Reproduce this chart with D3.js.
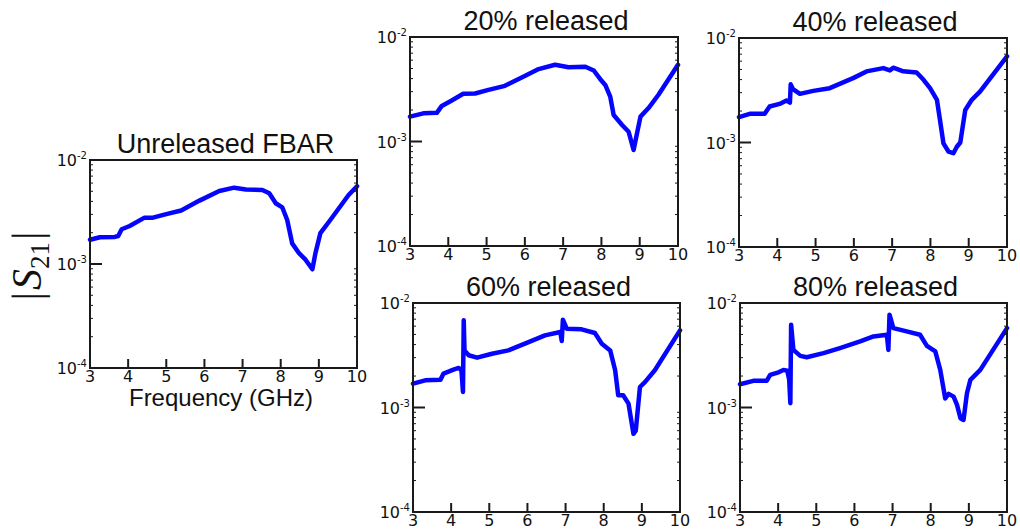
<!DOCTYPE html>
<html>
<head>
<meta charset="utf-8">
<script src="https://cdn.jsdelivr.net/npm/d3@7"></script>
<style>
  html, body { margin: 0; padding: 0; background: #fff; }
  svg { display: block; }
</style>
</head>
<body>
<svg id="chart" width="1020" height="532"></svg>
<script>
// ---------------- data ----------------
const panelTitles = ["Unreleased FBAR", "20% released", "40% released", "60% released", "80% released"];
const freqTicks = [3, 4, 5, 6, 7, 8, 9, 10];
const yTickExps = [-4, -3, -2];
const xLabel = "Frequency (GHz)";

const unreleasedFreq = [3.0, 3.26, 3.65, 3.74, 3.83, 4.04, 4.43, 4.65, 5.0, 5.39, 5.87, 6.39, 6.78, 7.09, 7.52, 7.7, 7.87, 8.04, 8.17, 8.3, 8.48, 8.65, 8.83, 8.91, 9.04, 9.3, 9.78, 10.0];
const unreleasedS21 = [1.71e-3, 1.81e-3, 1.82e-3, 1.86e-3, 2.16e-3, 2.32e-3, 2.79e-3, 2.79e-3, 3.02e-3, 3.27e-3, 4.07e-3, 5.04e-3, 5.42e-3, 5.2e-3, 5.15e-3, 4.79e-3, 3.84e-3, 3.51e-3, 2.65e-3, 1.58e-3, 1.27e-3, 1.1e-3, 8.9e-4, 1.27e-3, 1.98e-3, 2.65e-3, 4.61e-3, 5.6e-3];

const rel20Freq = [3.0, 3.35, 3.7, 3.83, 4.09, 4.39, 4.7, 5.05, 5.48, 6.01, 6.36, 6.79, 7.14, 7.58, 7.8, 7.97, 8.1, 8.23, 8.32, 8.54, 8.71, 8.84, 8.93, 9.02, 9.23, 9.49, 10.0];
const rel20S21 = [1.73e-3, 1.86e-3, 1.88e-3, 2.19e-3, 2.47e-3, 2.86e-3, 2.88e-3, 3.12e-3, 3.41e-3, 4.26e-3, 4.93e-3, 5.42e-3, 5.13e-3, 5.2e-3, 4.78e-3, 3.95e-3, 3.48e-3, 2.69e-3, 1.79e-3, 1.44e-3, 1.24e-3, 8.3e-4, 1.2e-3, 1.73e-3, 2.09e-3, 2.8e-3, 5.42e-3];

const rel40Freq = [3.0, 3.28, 3.67, 3.8, 4.06, 4.24, 4.33, 4.35, 4.41, 4.59, 4.94, 5.37, 5.98, 6.33, 6.77, 6.94, 7.03, 7.29, 7.64, 7.82, 7.99, 8.17, 8.25, 8.34, 8.47, 8.6, 8.69, 8.78, 8.91, 9.08, 9.3, 10.0];
const rel40S21 = [1.75e-3, 1.88e-3, 1.88e-3, 2.21e-3, 2.34e-3, 2.52e-3, 2.41e-3, 3.6e-3, 3.24e-3, 2.92e-3, 3.12e-3, 3.31e-3, 4.13e-3, 4.79e-3, 5.15e-3, 4.9e-3, 5.2e-3, 4.8e-3, 4.68e-3, 3.98e-3, 3.31e-3, 2.56e-3, 1.64e-3, 9.8e-4, 8.2e-4, 7.9e-4, 9.1e-4, 1.0e-3, 2.05e-3, 2.56e-3, 3.08e-3, 6.67e-3];

const rel60Freq = [3.0, 3.32, 3.72, 3.8, 4.06, 4.2, 4.27, 4.31, 4.33, 4.35, 4.46, 4.68, 5.07, 5.5, 6.03, 6.46, 6.86, 6.9, 6.93, 7.03, 7.42, 7.77, 7.95, 8.17, 8.3, 8.38, 8.51, 8.65, 8.78, 8.84, 8.95, 9.08, 9.34, 10.0];
const rel60S21 = [1.69e-3, 1.82e-3, 1.84e-3, 2.11e-3, 2.3e-3, 2.39e-3, 2.27e-3, 1.41e-3, 6.82e-3, 3.52e-3, 3.16e-3, 3.0e-3, 3.27e-3, 3.52e-3, 4.23e-3, 4.9e-3, 5.28e-3, 4.33e-3, 6.93e-3, 5.68e-3, 5.6e-3, 5.16e-3, 4.08e-3, 3.52e-3, 2.27e-3, 1.31e-3, 1.31e-3, 1.09e-3, 5.6e-4, 6.0e-4, 1.57e-3, 1.75e-3, 2.27e-3, 5.47e-3];

const rel80Freq = [3.0, 3.35, 3.7, 3.79, 4.01, 4.14, 4.24, 4.29, 4.32, 4.34, 4.4, 4.58, 4.75, 5.19, 5.62, 6.15, 6.5, 6.85, 6.89, 6.92, 7.02, 7.37, 7.72, 7.9, 8.12, 8.25, 8.38, 8.47, 8.6, 8.69, 8.78, 8.86, 8.95, 9.04, 9.3, 10.0];
const rel80S21 = [1.67e-3, 1.8e-3, 1.8e-3, 2.05e-3, 2.17e-3, 2.29e-3, 2.25e-3, 1.84e-3, 1.1e-3, 6.2e-3, 3.56e-3, 3.12e-3, 3.03e-3, 3.31e-3, 3.7e-3, 4.29e-3, 4.79e-3, 4.97e-3, 3.56e-3, 7.73e-3, 5.75e-3, 5.35e-3, 4.97e-3, 3.89e-3, 3.44e-3, 2.29e-3, 1.22e-3, 1.35e-3, 1.27e-3, 1.06e-3, 7.9e-4, 7.6e-4, 1.37e-3, 1.84e-3, 2.29e-3, 5.75e-3];

const seriesFreq = [unreleasedFreq, rel20Freq, rel40Freq, rel60Freq, rel80Freq];
const seriesS21 = [unreleasedS21, rel20S21, rel40S21, rel60S21, rel80S21];

// ---------------- layout ----------------
const boxes = [
  { l: 90,  t: 160, r: 357,  b: 368 },
  { l: 410, t: 37,  r: 678,  b: 246 },
  { l: 739, t: 38,  r: 1007, b: 247 },
  { l: 413, t: 303, r: 680,  b: 512 },
  { l: 740, t: 303, r: 1007, b: 512 }
];
const lineColor = "#0505ff";
const axisColor = "#1a1a1a";
const tickFont = "'DejaVu Sans', sans-serif";
const titleFont = "'Liberation Sans', Arial, sans-serif";

const svg = d3.select("#chart");

boxes.forEach((bx, i) => {
  const x = d3.scaleLinear().domain([3, 10]).range([bx.l, bx.r]);
  const y = d3.scaleLog().domain([1e-4, 1e-2]).range([bx.b, bx.t]);
  const g = svg.append("g");

  // curve
  const pts = seriesFreq[i].map((f, k) => [f, seriesS21[i][k]]);
  g.append("path")
    .datum(pts)
    .attr("fill", "none")
    .attr("stroke", lineColor)
    .attr("stroke-width", 4.5)
    .attr("stroke-linejoin", "round")
    .attr("stroke-linecap", "round")
    .attr("d", d3.line().x(d => x(d[0])).y(d => y(d[1])));

  // minor log ticks on left and right spines
  const minor = [];
  for (let e = -4; e < -2; e++) for (let m = 2; m <= 9; m++) minor.push(m * Math.pow(10, e));
  g.selectAll(".minL").data(minor).enter().append("line")
    .attr("x1", bx.l).attr("x2", bx.l + 3)
    .attr("y1", d => y(d)).attr("y2", d => y(d))
    .attr("stroke", axisColor).attr("stroke-width", 1);
  g.selectAll(".minR").data(minor).enter().append("line")
    .attr("x1", bx.r).attr("x2", bx.r - 3)
    .attr("y1", d => y(d)).attr("y2", d => y(d))
    .attr("stroke", axisColor).attr("stroke-width", 1);

  // major y tick at 1e-3
  g.append("line")
    .attr("x1", bx.l).attr("x2", bx.l + 12)
    .attr("y1", y(1e-3)).attr("y2", y(1e-3))
    .attr("stroke", axisColor).attr("stroke-width", 2);

  // x ticks (inner)
  g.selectAll(".xt").data(freqTicks.slice(1, -1)).enter().append("line")
    .attr("x1", d => x(d)).attr("x2", d => x(d))
    .attr("y1", bx.b).attr("y2", bx.b - 9)
    .attr("stroke", axisColor).attr("stroke-width", 2);

  // frame
  g.append("rect")
    .attr("x", bx.l).attr("y", bx.t)
    .attr("width", bx.r - bx.l).attr("height", bx.b - bx.t)
    .attr("fill", "none").attr("stroke", axisColor).attr("stroke-width", 2);

  // x tick labels
  g.selectAll(".xl").data(freqTicks).enter().append("text")
    .attr("x", d => x(d)).attr("y", bx.b + 14)
    .attr("text-anchor", "middle")
    .attr("font-family", tickFont).attr("font-size", 16).attr("fill", "#111")
    .text(d => d);

  // y tick labels 10^e
  yTickExps.forEach(e => {
    const t = g.append("text")
      .attr("x", bx.l - 3).attr("y", y(Math.pow(10, e)) + 6)
      .attr("text-anchor", "end")
      .attr("font-family", tickFont).attr("font-size", 16).attr("fill", "#111");
    t.append("tspan").text("10");
    t.append("tspan").attr("font-size", 10).attr("dy", -7).text(String(e));
  });

  // title
  g.append("text")
    .attr("x", (bx.l + bx.r) / 2 + 2).attr("y", bx.t - 7)
    .attr("text-anchor", "middle")
    .attr("font-family", titleFont).attr("font-size", 27).attr("fill", "#111")
    .text(panelTitles[i]);
});

// x axis label for first panel
svg.append("text")
  .attr("x", 221).attr("y", 406)
  .attr("text-anchor", "middle")
  .attr("font-family", titleFont).attr("font-size", 24).attr("fill", "#111")
  .text(xLabel);

// y axis label |S21|
const yl = svg.append("text")
  .attr("transform", "translate(41,266) rotate(-90)")
  .attr("text-anchor", "middle")
  .attr("font-family", "'Liberation Serif', 'DejaVu Serif', serif")
  .attr("font-size", 42).attr("fill", "#111");
yl.append("tspan").text("|");
yl.append("tspan").attr("font-style", "italic").attr("dx", 2).text("S");
yl.append("tspan").attr("font-size", 27).attr("dy", 8).text("21");
yl.append("tspan").attr("dy", -8).attr("dx", 2).text("|");
</script>
</body>
</html>
